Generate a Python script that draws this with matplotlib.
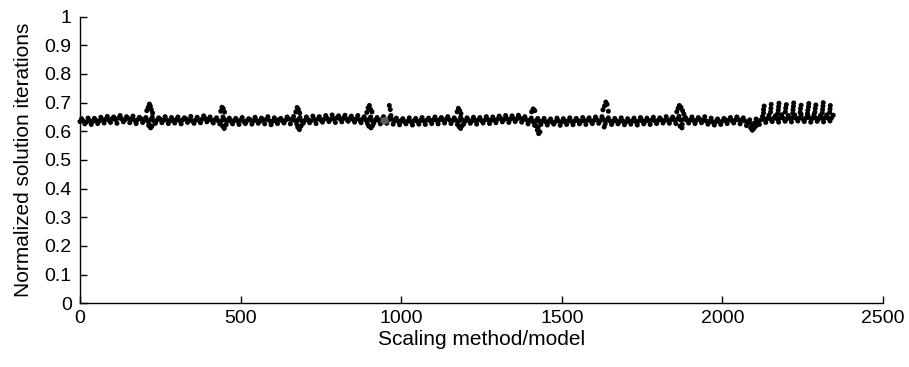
import numpy as np
import matplotlib
matplotlib.use('Agg')
import matplotlib.pyplot as plt

plt.rcParams['font.family'] = ['Liberation Sans', 'DejaVu Sans']

# core band, one value every 10 models
mid_y = [0.634,0.636,0.632,0.637,0.635,0.638,0.636,0.640,
         0.642,0.639,0.644,0.641,0.646,0.643,0.640,0.645,0.642,0.638,0.641,0.644,0.640,
         0.637,0.641,0.636,0.639,
         0.642,0.638,0.640,0.636,0.639,0.641,0.637,0.640,0.643,0.639,0.636,0.640,0.638,0.642,0.645,0.641,0.638,0.640,0.637,
         0.636,0.641,0.638,
         0.635,0.638,0.636,0.639,0.634,0.637,0.640,0.636,0.638,0.635,0.639,0.642,0.637,0.635,0.638,0.641,0.636,0.639,0.643,0.640,
         0.637,0.641,0.636,
         0.638,0.641,0.637,0.640,0.643,0.639,0.642,0.645,0.641,0.644,0.647,0.643,0.646,0.642,0.645,0.641,0.644,0.640,0.643,
         0.639,0.642,0.637,0.640,0.638,0.641,0.636,0.639,0.642,
         0.638,0.635,0.637,0.633,0.636,0.634,0.637,0.635,0.638,0.636,0.639,0.637,0.640,0.638,0.641,0.639,0.642,0.640,0.637,
         0.639,0.636,0.640,
         0.637,0.639,0.636,0.638,0.640,0.637,0.639,0.641,0.638,0.640,0.642,0.645,0.641,0.644,0.642,0.645,0.643,0.646,0.642,0.640,
         0.638,0.634,0.637,0.635,
         0.636,0.633,0.635,0.632,0.634,0.636,0.633,0.635,0.637,0.634,0.636,0.638,0.635,0.637,0.639,0.636,0.638,0.640,
         0.637,0.641,0.638,0.636,
         0.635,0.637,0.634,0.636,0.633,0.635,0.637,0.634,0.636,0.638,0.635,0.637,0.639,0.636,0.638,0.640,0.637,0.639,0.641,
         0.640,0.643,0.639,0.642,0.638,
         0.640,0.637,0.639,0.641,0.638,0.636,0.634,0.632,0.635,0.633,0.636,0.638,0.640,0.637,0.639,0.641,0.638,0.636,
         0.630,0.626,0.629,0.634,
         0.640,0.643,0.645,0.642,0.646,0.644,0.647,0.645,0.643,0.646,0.648,0.645,0.647,0.644,0.646,0.648,0.645,0.647,0.644,0.646,0.648,0.645,0.647]
mid_x = np.arange(len(mid_y)) * 10

# upper edge of the band, every 20 models
up_y = [0.644,0.646,0.645,0.649,
        0.652,0.650,0.655,0.651,0.653,0.649,
        0.648,0.650,0.647,
        0.651,0.648,0.650,0.647,0.652,0.649,0.654,0.650,0.647,
        0.650,0.646,
        0.645,0.648,0.644,0.649,0.646,0.651,0.647,0.645,0.650,0.652,
        0.648,
        0.650,0.653,0.651,0.655,0.657,0.654,0.656,0.653,0.655,0.651,
        0.650,0.648,0.651,0.649,
        0.646,0.644,0.647,0.645,0.648,0.646,0.650,0.648,0.651,0.647,
        0.649,
        0.647,0.649,0.648,0.651,0.650,0.653,0.655,0.654,0.656,0.651,
        0.646,0.645,
        0.645,0.643,0.646,0.644,0.647,0.645,0.648,0.647,0.650,
        0.651,0.647,
        0.645,0.647,0.644,0.646,0.648,0.646,0.649,0.647,0.651,0.650,
        0.652,0.648,
        0.650,0.648,0.651,0.646,0.643,0.645,0.648,0.650,0.647,
        0.640,0.643,
        0.652,0.656,0.654,0.658,0.655,0.657,0.659,0.656,0.658,0.655,0.657,0.656]
up_x = np.arange(len(up_y)) * 20 + 5

# lower edge of the band, every 20 models
lo_y = [0.626,0.624,0.627,0.629,
        0.631,0.628,0.633,0.630,0.627,0.631,
        0.625,0.628,
        0.630,0.627,0.629,0.626,0.631,0.628,0.630,0.633,0.629,
        0.626,0.624,
        0.626,0.624,0.627,0.625,0.628,0.626,0.623,0.627,0.629,0.626,
        0.625,
        0.628,0.630,0.627,0.632,0.634,0.631,0.633,0.635,0.632,0.630,
        0.627,0.629,0.626,0.628,
        0.625,0.623,0.626,0.622,0.625,0.624,0.627,0.626,0.629,0.627,
        0.624,
        0.626,0.628,0.625,0.629,0.627,0.630,0.633,0.631,0.634,0.632,
        0.626,0.621,
        0.624,0.622,0.625,0.621,0.624,0.623,0.626,0.624,0.627,
        0.628,0.625,
        0.624,0.626,0.623,0.625,0.622,0.626,0.624,0.627,0.629,0.628,
        0.627,0.624,
        0.629,0.627,0.630,0.625,0.622,0.624,0.627,0.629,0.626,
        0.620,0.616,
        0.624,0.631,0.634,0.632,0.635,0.633,0.636,0.634,0.632,0.635,0.633,0.636]
lo_x = np.arange(len(lo_y)) * 20 + 15

# scattered models away from the band
out_x = [208,212,216,219,222,226,214,220,224,
         438,442,446,450,444,449,454,
         672,676,680,684,678,683,688,
         893,897,901,905,909,899,906,911,
         963,966,968,
         1174,1178,1182,1186,1180,1185,1190,
         1406,1411,1416,1420,1424,1428,1432,1426,
         1628,1633,1637,1641,1645,1632,
         1858,1862,1866,1871,1876,1880,1868,1874,
         2088,2093,2098,2104,2096]
out_y = [0.672,0.683,0.695,0.688,0.676,0.664,0.620,0.612,0.618,
         0.670,0.684,0.679,0.667,0.618,0.610,0.622,
         0.668,0.683,0.676,0.664,0.614,0.606,0.618,
         0.666,0.682,0.690,0.676,0.668,0.618,0.612,0.620,
         0.690,0.676,0.655,
         0.668,0.680,0.672,0.662,0.616,0.610,0.620,
         0.668,0.678,0.672,0.620,0.604,0.592,0.598,0.612,
         0.675,0.688,0.702,0.694,0.670,0.615,
         0.668,0.680,0.690,0.684,0.672,0.660,0.618,0.612,
         0.612,0.604,0.610,0.618,0.622]

# last block of models, columns reaching up to 0.7
tail_x = [2128,2128,2130, 2150,2151,2152, 2172,2174,2175,2176, 2196,2197,2199,
          2219,2220,2221,2222, 2242,2243,2245, 2265,2266,2268,2269, 2288,2289,2291,
          2311,2312,2313,2314, 2334,2335,2336]
tail_y = [0.664,0.676,0.688, 0.667,0.680,0.694, 0.662,0.674,0.686,0.698, 0.668,0.681,0.693,
          0.663,0.675,0.687,0.699, 0.666,0.679,0.691, 0.662,0.674,0.686,0.697, 0.667,0.680,0.692,
          0.664,0.676,0.688,0.700, 0.666,0.678,0.690]

# grey marked models
grey_x = [944,947,950,953]
grey_y = [0.638,0.634,0.640,0.636]

fig = plt.figure(figsize=(9.09, 3.67), dpi=100)
ax = fig.add_axes([0.088, 0.1736, 0.8834, 0.781])

ms = 13
for xs, ys in [(mid_x, mid_y), (up_x, up_y), (lo_x, lo_y), (out_x, out_y), (tail_x, tail_y)]:
    ax.scatter(xs, ys, s=ms, c='black', edgecolors='none', clip_on=False)
ax.scatter(grey_x, grey_y, s=18, c='#5a5a5a', edgecolors='none', zorder=3)

ax.set_xlim(0, 2500)
ax.set_ylim(0, 1)
ax.set_xticks(np.arange(0, 2501, 500))
ax.set_yticks(np.round(np.arange(0, 1.01, 0.1), 1))
ax.set_yticklabels(['0'] + ['%.1f' % v for v in np.arange(0.1, 0.95, 0.1)] + ['1'])

for side in ['top', 'right']:
    ax.spines[side].set_visible(False)
for side in ['left', 'bottom']:
    ax.spines[side].set_linewidth(1.0)
ax.tick_params(direction='in', length=5, width=1, labelsize=14)
ax.tick_params(axis='y', pad=6)
ax.tick_params(axis='x', pad=5)

ax.set_xlabel('Scaling method/model', fontsize=15, labelpad=2)
ax.set_ylabel('Normalized solution iterations', fontsize=15, labelpad=8)

fig.savefig('out.png', dpi=100)
plt.close(fig)
